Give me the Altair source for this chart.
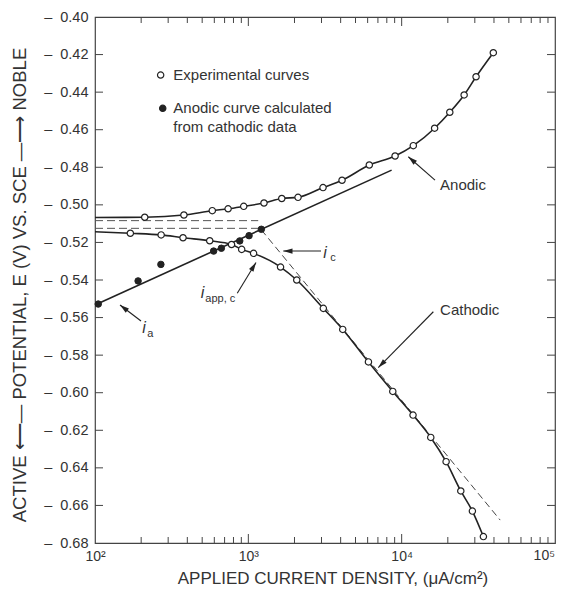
import math
import altair as alt
import pandas as pd

# ---------------- data ----------------
anodic_x = [211, 380, 582, 738, 933, 1265, 1652, 2109, 3070, 4084, 6150, 9060,
            11910, 16400, 20600, 25550, 30560, 39600]
anodic_y = [-0.5066, -0.5054, -0.5031, -0.5021, -0.5008, -0.4990, -0.4966, -0.4960,
            -0.4908, -0.4869, -0.4788, -0.4740, -0.4685, -0.4592, -0.4507, -0.4415,
            -0.4318, -0.4190]

cathodic_x = [170, 270, 375, 560, 777, 905, 1082, 1622, 2069, 3084, 4127, 6072,
              8750, 11860, 15480, 19490, 24300, 28920, 34120]
cathodic_y = [-0.5151, -0.5160, -0.5175, -0.5191, -0.5211, -0.5237, -0.5258, -0.5331,
              -0.5400, -0.5551, -0.5663, -0.5836, -0.5993, -0.6119, -0.6238, -0.6367,
              -0.6523, -0.6630, -0.6766]

calc_x = [105, 191, 269, 594, 667, 879, 1011, 1216]
calc_y = [-0.5528, -0.5405, -0.5317, -0.5246, -0.5231, -0.5192, -0.5164, -0.5130]

# curve starting values at the left edge
anodic_start = (100, -0.5067)
cathodic_start = (100, -0.5143)

# i_a straight line and Tafel extrapolation (dashed)
ia_line_x = [105, 8600]
ia_line_y = [-0.5525, -0.4815]
tafel_x = [1216, 43900]
tafel_y = [-0.5133, -0.6678]

# horizontal dashed lines
hdash_y = [-0.5084, -0.5125]
hdash_x1 = [100, 100]
hdash_x2 = [1160, 1200]

x_tick_values = [100, 1000, 10000]
x_tick_labels = ["10²", "10³", "10⁴"]
x_last_value = 100000
x_last_label = "10⁵"
y_tick_values = [-0.68, -0.66, -0.64, -0.62, -0.60, -0.58, -0.56, -0.54, -0.52,
                 -0.50, -0.48, -0.46, -0.44, -0.42, -0.40]
minor_x = [200, 300, 400, 500, 600, 700, 800, 900,
           2000, 3000, 4000, 5000, 6000, 7000, 8000, 9000,
           20000, 30000, 40000, 50000, 60000, 70000, 80000, 90000]
major_x = [1000, 10000]

# annotations (data coordinates)
legend_sym_x = [268, 276.5]
legend_sym_y = [-0.4309, -0.4486]
legend_sym_fill = ["white", "#222"]
label_text = ["Experimental curves", "Anodic curve calculated", "from cathodic data",
              "Anodic", "Cathodic"]
label_x = [324, 324, 324, 17800, 17800]
label_y = [-0.4309, -0.4486, -0.4584, -0.4894, -0.5560]

i_x = [3162, 502, 209]
i_y = [-0.5254, -0.5467, -0.5653]
sub_text = ["c", "app, c", "a"]
sub_x = [3420, 524, 219]
sub_y = [-0.5283, -0.5501, -0.5685]

arrow_x1 = [16500, 16090, 2979, 847, 199.5]
arrow_y1 = [-0.4868, -0.5569, -0.5246, -0.5471, -0.5618]
arrow_x2 = [11050, 7040, 1690, 1122, 145.6]
arrow_y2 = [-0.4744, -0.5866, -0.5246, -0.5307, -0.5533]

# ---------------- layout ----------------
W, H = 460, 526
FONT = "Liberation Sans"
INK = "#222"
TXT = "#333"


def px(x):
    return W * (math.log10(x) - 2) / 3


def py(y):
    return H * (-0.40 - y) / 0.28


xscale = alt.Scale(type="log", domain=[100, 100000], nice=False)
yscale = alt.Scale(domain=[-0.68, -0.40], nice=False, zero=False)

label_map = " : ".join(
    f"datum.value == {v} ? '{t}'" for v, t in zip(x_tick_values, x_tick_labels)
) + " : ''"
xaxis = alt.Axis(values=x_tick_values, labelExpr=label_map, tickSize=0, domain=False,
                 grid=False, title=None, labelFontSize=14, labelFont=FONT,
                 labelColor=TXT, labelPadding=6, labelFlush=False)
yaxis = alt.Axis(values=y_tick_values,
                 labelExpr="'– \u00a0' + format(-datum.value, '.2f')",
                 tickSize=0, domain=False, grid=False, title=None,
                 labelFontSize=14.5, labelFont=FONT, labelColor=TXT, labelPadding=7)


def X(f):
    return alt.X(f, type="quantitative", scale=xscale, axis=xaxis)


def Y(f):
    return alt.Y(f, type="quantitative", scale=yscale, axis=yaxis)


anod_df = pd.DataFrame({"x": anodic_x, "y": anodic_y})
cath_df = pd.DataFrame({"x": cathodic_x, "y": cathodic_y})
calc_df = pd.DataFrame({"x": calc_x, "y": calc_y})
anod_curve = pd.DataFrame({"x": [anodic_start[0]] + anodic_x,
                           "y": [anodic_start[1]] + anodic_y})
cath_curve = pd.DataFrame({"x": [cathodic_start[0]] + cathodic_x,
                           "y": [cathodic_start[1]] + cathodic_y})
ia_df = pd.DataFrame({"x": ia_line_x, "y": ia_line_y})
tafel_df = pd.DataFrame({"x": tafel_x, "y": tafel_y})
hdash_df = pd.DataFrame({"x": hdash_x1, "x2": hdash_x2, "y": hdash_y})

layers = []

# dashed lines
layers.append(alt.Chart(hdash_df).mark_rule(color="#555", strokeWidth=1,
                                            strokeDash=[8, 4]).encode(
    x=X("x"), x2="x2", y=Y("y")))
layers.append(alt.Chart(tafel_df).mark_line(color="#444", strokeWidth=1,
                                            strokeDash=[7, 4]).encode(
    x=X("x"), y=Y("y")))
# solid lines
layers.append(alt.Chart(ia_df).mark_line(color=INK, strokeWidth=1.6).encode(
    x=X("x"), y=Y("y")))
layers.append(alt.Chart(anod_curve).mark_line(color=INK, strokeWidth=1.6,
                                              interpolate="monotone").encode(
    x=X("x"), y=Y("y")))
layers.append(alt.Chart(cath_curve).mark_line(color=INK, strokeWidth=1.6,
                                              interpolate="monotone").encode(
    x=X("x"), y=Y("y")))
# points
for df in (anod_df, cath_df):
    layers.append(alt.Chart(df).mark_point(shape="circle", filled=True, fill="white",
                                           stroke=INK, strokeWidth=1.2, size=40,
                                           opacity=1).encode(x=X("x"), y=Y("y")))
layers.append(alt.Chart(calc_df).mark_point(shape="circle", filled=True, fill=INK,
                                            stroke=INK, strokeWidth=1, size=42,
                                            opacity=1).encode(x=X("x"), y=Y("y")))

# inner tick marks
yt = pd.DataFrame({"y": y_tick_values[1:-1]})
layers.append(alt.Chart(yt).mark_rule(color="#444", strokeWidth=1).encode(
    y=Y("y"), x=alt.value(0), x2=alt.value(8)))
layers.append(alt.Chart(yt).mark_rule(color="#444", strokeWidth=1).encode(
    y=Y("y"), x=alt.value(W - 8), x2=alt.value(W)))
mnx = pd.DataFrame({"x": minor_x})
mjx = pd.DataFrame({"x": major_x})
for df, ln in ((mnx, 6), (mjx, 9)):
    layers.append(alt.Chart(df).mark_rule(color="#444", strokeWidth=1).encode(
        x=X("x"), y=alt.value(H - ln), y2=alt.value(H)))
    layers.append(alt.Chart(df).mark_rule(color="#444", strokeWidth=1).encode(
        x=X("x"), y=alt.value(0), y2=alt.value(ln)))

# last x tick label (kept inside the page)
last = pd.DataFrame({"x": [x_last_value], "t": [x_last_label]})
layers.append(alt.Chart(last).mark_text(align="right", baseline="top", fontSize=14,
                                        font=FONT, color=TXT, dx=0).encode(
    x=X("x"), y=alt.value(H + 6), text="t:N"))

# legend symbols
leg = pd.DataFrame({"x": legend_sym_x, "y": legend_sym_y, "f": legend_sym_fill})
layers.append(alt.Chart(leg).mark_point(shape="circle", filled=True, stroke=INK,
                                        strokeWidth=1.2, size=40, opacity=1).encode(
    x=X("x"), y=Y("y"), fill=alt.Fill("f:N", scale=None)))

# labels
lab = pd.DataFrame({"x": label_x, "y": label_y, "t": label_text})
layers.append(alt.Chart(lab).mark_text(align="left", baseline="middle", fontSize=15,
                                       font=FONT, color=TXT).encode(
    x=X("x"), y=Y("y"), text="t:N"))
idf = pd.DataFrame({"x": i_x, "y": i_y, "t": ["i"] * 3})
layers.append(alt.Chart(idf).mark_text(align="center", baseline="middle", fontSize=16,
                                       font=FONT, fontStyle="italic", color=TXT).encode(
    x=X("x"), y=Y("y"), text="t:N"))
sdf = pd.DataFrame({"x": sub_x, "y": sub_y, "t": sub_text})
layers.append(alt.Chart(sdf).mark_text(align="left", baseline="middle", fontSize=11,
                                       font=FONT, color=TXT).encode(
    x=X("x"), y=Y("y"), text="t:N"))

# arrows
angles = []
for a, b, c, d in zip(arrow_x1, arrow_y1, arrow_x2, arrow_y2):
    dx = px(c) - px(a)
    dy = py(d) - py(b)
    angles.append(math.degrees(math.atan2(dx, -dy)) % 360)
arr = pd.DataFrame({"x": arrow_x1, "y": arrow_y1, "x2": arrow_x2, "y2": arrow_y2,
                    "ang": angles})
layers.append(alt.Chart(arr).mark_rule(color=INK, strokeWidth=1.1).encode(
    x=X("x"), y=Y("y"), x2="x2", y2="y2"))
ARROW = "M0,0L-1.3,4.6L1.3,4.6Z"
layers.append(alt.Chart(arr).mark_point(shape=ARROW, filled=True, color=INK, size=16,
                                        opacity=1).encode(
    x=X("x2"), y=Y("y2"), angle=alt.Angle("ang:Q", scale=None)))

# axis titles as text
one = pd.DataFrame({"a": [0]})
layers.append(alt.Chart(one).mark_text(
    text="ACTIVE ⟵— POTENTIAL, E (V) VS. SCE —⟶ NOBLE", angle=270, align="center",
    baseline="middle", fontSize=18.5, font=FONT, color=TXT).encode(
    x=alt.value(-75), y=alt.value(H / 2 + 5)))
layers.append(alt.Chart(one).mark_text(
    text="APPLIED CURRENT DENSITY, (μA/cm²)", align="center",
    baseline="alphabetic", fontSize=17, font=FONT, color=TXT).encode(
    x=alt.value(238), y=alt.value(H + 41)))

chart = alt.layer(*layers).properties(
    width=W, height=H,
    autosize=alt.AutoSizeParams(type="none"),
    padding={"left": 87, "top": 9, "right": 1, "bottom": 46},
).configure_view(stroke="#444", strokeWidth=1.2)

chart.save("out.html", embed_options={"renderer": "svg", "actions": False})
